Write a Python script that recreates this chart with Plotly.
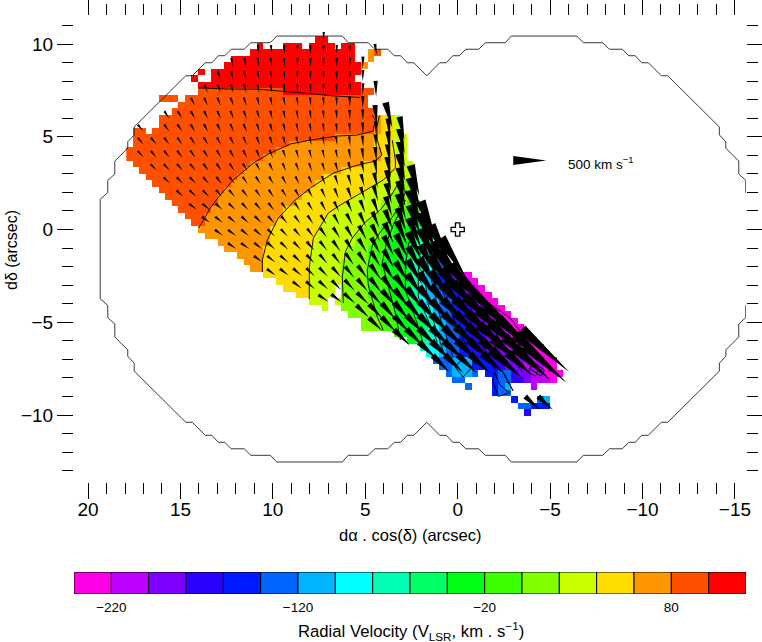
import math
import plotly.graph_objects as go

W, H = 762, 642
FONT = "Liberation Sans"

LEVEL_COLORS = ["#ff00e6", "#c000ff", "#7f00ff", "#2a00ff", "#0019ff", "#0064ff", "#00b4ff", "#00ffff",
                "#00ffb4", "#00ff64", "#00ff14", "#3cff00", "#80ff00", "#c8ff00", "#ffdc00", "#ff9600",
                "#ff5000", "#ff0000"]
LEVEL_EDGES = [-240 + 20 * i for i in range(19)]
CBAR_TICKS = [-220, -120, -20, 80]

# velocity map: for each row, runs of (first column, last column, colour level)
CELL_SIZE = 0.3532
COL0_X = 17.756
ROW0_Y = 10.254
cell_runs = [
 [(29,30,17)],
 [(20,20,17),(24,26,17),(28,31,17),(33,34,17)],
 [(19,34,17),(37,37,15),(38,38,16)],
 [(16,34,17),(37,37,15)],
 [(15,35,17),(36,36,15)],
 [(11,11,17),(13,35,17)],
 [(10,10,17),(13,34,17)],
 [(11,35,17)],
 [(11,23,16),(24,35,17),(36,37,16)],
 [(5,7,16),(9,36,16)],
 [(8,36,16)],
 [(7,37,16)],
 [(5,37,16),(38,38,15),(39,40,14),(41,41,13)],
 [(5,37,16),(38,38,15),(39,40,14),(41,41,13)],
 [(1,2,16),(4,37,16),(38,38,15),(39,40,14),(41,41,13)],
 [(1,31,16),(32,37,15),(38,40,14),(41,42,13)],
 [(1,24,16),(25,37,15),(38,40,14),(41,42,13)],
 [(0,22,16),(23,38,15),(39,40,14),(41,42,13)],
 [(0,20,16),(21,38,15),(39,41,14),(42,42,13)],
 [(1,18,16),(19,35,15),(36,41,14),(42,43,13)],
 [(2,17,16),(18,32,15),(33,40,14),(41,43,13)],
 [(3,16,16),(17,29,15),(30,39,14),(40,43,13)],
 [(4,15,16),(16,28,15),(29,37,14),(38,41,13),(42,43,12)],
 [(5,14,16),(15,27,15),(28,36,14),(37,40,13),(41,43,12)],
 [(6,13,16),(14,26,15),(27,34,14),(35,39,13),(40,43,12)],
 [(7,13,16),(14,25,15),(26,33,14),(34,38,13),(39,42,12),(43,44,11)],
 [(8,12,16),(13,23,15),(24,31,14),(32,38,13),(39,41,12),(42,44,11)],
 [(9,11,16),(12,23,15),(24,30,14),(31,37,13),(38,40,12),(41,43,11),(44,45,10)],
 [(10,11,16),(12,22,15),(23,29,14),(30,36,13),(37,39,12),(40,42,11),(43,45,10)],
 [(11,21,15),(22,29,14),(30,35,13),(36,38,12),(39,40,11),(41,43,10),(44,45,9)],
 [(12,21,15),(22,28,14),(29,34,13),(35,38,12),(39,40,11),(41,43,10),(44,45,9),(46,46,8)],
 [(14,21,15),(22,28,14),(29,34,13),(35,37,12),(38,39,11),(40,43,10),(44,44,9),(45,46,8)],
 [(15,20,15),(21,27,14),(28,33,13),(34,36,12),(37,39,11),(40,42,10),(43,44,9),(45,45,8),(46,46,7),(47,47,6)],
 [(17,20,15),(21,27,14),(28,33,13),(34,36,12),(37,39,11),(40,42,10),(43,44,9),(45,45,8),(46,46,7),(47,47,6)],
 [(18,20,15),(21,27,14),(28,32,13),(33,36,12),(37,38,11),(39,42,10),(43,43,9),(44,45,8),(46,46,7),(47,47,6),(48,48,5)],
 [(19,20,15),(21,27,14),(28,32,13),(33,36,12),(37,38,11),(39,42,10),(43,43,9),(44,45,8),(46,46,7),(47,47,6),(48,49,5)],
 [(21,27,14),(28,32,13),(33,36,12),(37,39,11),(40,42,10),(43,43,9),(44,44,8),(45,45,7),(46,46,6),(47,47,5),(48,48,4),(49,49,3),(50,50,2),(51,52,0)],
 [(23,27,14),(28,32,13),(33,36,12),(37,39,11),(40,42,10),(43,43,9),(44,44,8),(45,45,7),(46,46,6),(47,47,5),(48,48,4),(49,49,3),(50,50,2),(51,51,1),(52,53,0)],
 [(24,27,14),(28,31,13),(33,36,12),(37,39,11),(40,42,10),(43,43,9),(44,44,8),(45,45,7),(46,46,6),(47,48,5),(49,49,4),(50,51,3),(52,52,2),(53,53,1),(54,54,0)],
 [(26,27,14),(28,31,13),(33,36,12),(37,39,11),(40,42,10),(43,43,9),(44,44,8),(45,45,7),(46,47,6),(48,48,5),(49,50,4),(51,51,3),(52,52,2),(53,53,1),(54,55,0)],
 [(28,30,13),(32,32,13),(33,37,12),(38,40,11),(41,42,10),(43,44,9),(45,45,7),(46,47,6),(48,49,5),(50,50,4),(51,52,3),(53,53,2),(54,54,1),(55,56,0)],
 [(30,30,13),(33,37,12),(38,40,11),(41,43,10),(44,44,9),(45,45,8),(46,46,7),(47,47,6),(48,49,5),(50,50,4),(51,52,3),(53,54,2),(55,55,1),(56,57,0)],
 [(34,37,12),(38,40,11),(41,43,10),(44,44,9),(45,45,8),(46,46,7),(47,47,6),(48,49,5),(50,51,4),(52,52,3),(53,54,2),(55,56,1),(57,58,0)],
 [(36,38,12),(39,41,11),(42,44,10),(45,45,9),(46,46,8),(47,47,7),(48,48,6),(49,49,5),(50,51,4),(52,53,3),(54,55,2),(56,56,1),(57,59,0)],
 [(36,38,12),(39,41,11),(42,44,10),(45,45,9),(46,46,8),(47,47,7),(48,48,6),(49,50,5),(51,51,4),(52,53,3),(54,55,2),(56,57,1),(58,60,0)],
 [(41,41,11),(42,44,10),(45,45,9),(46,46,8),(47,47,7),(48,48,6),(49,50,5),(51,52,4),(53,54,3),(55,56,2),(57,58,1),(59,61,0)],
 [(43,44,10),(45,45,9),(46,46,8),(47,47,7),(48,48,6),(49,50,5),(51,52,4),(53,54,3),(55,56,2),(57,58,1),(59,62,0)],
 [(45,45,8),(46,47,7),(48,48,6),(49,50,5),(51,52,4),(53,54,3),(55,57,2),(58,60,1),(61,63,0)],
 [(46,47,7),(48,48,6),(49,50,5),(51,53,4),(54,55,3),(56,58,2),(59,62,1),(63,64,0)],
 [(47,49,5),(50,52,6),(53,55,4),(56,57,3),(58,60,2),(61,63,1),(64,65,0)],
 [(48,49,5),(50,52,6),(53,55,4),(56,57,3),(58,60,2),(61,63,1),(64,65,0)],
 [(49,49,5),(50,52,6),(53,53,5),(55,56,4),(57,58,5),(59,59,3),(60,61,2),(62,63,1),(64,66,0)],
 [(50,51,5),(56,56,4),(57,58,5),(59,60,3),(61,61,2),(62,64,1),(65,65,0)],
 [(52,52,5),(56,56,4),(57,57,5),(58,58,6),(62,62,1)],
 [(56,56,4),(57,58,5)],
 [(59,59,4),(63,63,5),(64,64,6)],
 [(60,61,5),(62,64,4)],
 [(61,61,3)],
]

# isovelocity contours, (dalpha, ddelta) in arcsec
contours = [
 [(14.04,7.63),(12.30,7.57),(10.90,7.57),(9.44,7.46),(8.35,7.36),(6.73,7.20),(5.27,7.12)],
 [(14.02,.08),(13.75,.51),(13.39,1.16),(12.85,1.86),(12.14,2.67),(11.06,3.58),(10.14,4.12),(9.06,4.61),(7.97,4.82),(6.51,5.04),(5.43,5.09),(4.57,5.31),(4.46,5.90),(4.62,6.17)],
 [(10.57,-2.29),(10.57,-1.65),(10.30,-.57),(9.71,.62),(8.79,1.59),(7.97,2.24),(6.73,3.04),(5.43,3.47),(4.46,3.69),(4.10,4.01),(4.35,4.82),(4.38,5.47),(4.24,6.12)],
 [(8.03,-3.75),(8.03,-2.02),(7.81,-.46),(7.0,.89),(6.35,1.32),(5.27,1.97),(4.03,2.67),(3.37,3.31),(3.37,3.75),(3.54,4.82)],
 [(6.19,-3.96),(6.24,-2.56),(6.08,-1.21),(5.70,-.46),(5.0,.40),(4.19,1.05),(3.65,1.75),(3.10,2.67),(3.0,3.48)],
 [(4.03,-5.42),(4.35,-4.72),(4.84,-2.99),(4.89,-2.19),(4.62,-.84),(4.19,-.14),(3.65,.51),(3.10,1.32),(2.78,2.13)],
 [(3.10,-5.96),(3.37,-4.50),(4.08,-1.81),(3.86,-.73),(3.48,.24),(2.83,1.59)],
 [(1.86,-6.23),(2.02,-5.58),(2.83,-3.26),(2.83,-1.92),(2.67,-.84),(2.35,.24)],
 [(1.10,-6.07),(2.13,-3.64),(2.13,-2.19),(2.02,-1.11)],
 [(.67,-6.93),(1.59,-4.07),(1.86,-2.19)],
 [(.24,-6.93),(.94,-4.77),(1.48,-2.46),(1.81,-1.11)],
 [(-.95,-7.31),(.24,-4.77),(1.16,-2.46),(1.59,-1.11)],
 [(-2.04,-7.58),(-.58,-4.77),(.83,-2.46),(1.37,-1.11)],
 [(-3.5,-7.68),(-1.49,-4.77),(.51,-2.46)],
 [(-4.36,-7.68),(-2.31,-4.77),(.29,-2.62)],
 [(-5.01,-7.68),(-2.85,-4.77),(.02,-2.83)],
 [(.14,-7.41),(-.29,-6.93),(-.79,-7.41),(-.29,-7.95),(.14,-7.41)],
 [(-2.0,-7.7),(-2.3,-8.4),(-2.8,-8.8),(-2.2,-9.0),(-1.9,-8.2),(-2.0,-7.7)],
 [(-2.4,-7.6),(-2.7,-8.2),(-3.0,-8.7),(-2.6,-7.9),(-2.4,-7.6)],
 [(-3.8,-7.7),(-4.2,-7.9),(-4.4,-7.5),(-4.0,-7.3),(-3.8,-7.7)],
 [(-3.9,-7.5),(-4.5,-7.9),(-4.7,-7.6),(-4.2,-7.2),(-3.9,-7.5)],
]

# field of view: one quadrant of the outline, offset from the centre of symmetry (arcsec)
FOV_CENTRE = (1.672, -1.051)
fov_dx = [0,.70,1.055,1.41,1.76,2.11,2.81,3.17,4.25,4.57,8.12,8.47,9.52,9.88,10.58,10.93,11.28,11.63,11.99,12.69,13.04,15.83,15.83,16.18,16.18,16.88,16.88,17.26,17.26,17.67]
fov_dy = [9.34,10.04,10.04,10.42,10.42,10.77,10.77,11.12,11.12,11.48,11.48,11.12,11.12,10.77,10.77,10.42,10.42,10.04,10.04,9.34,9.34,6.58,6.15,5.78,5.44,4.74,4.04,3.70,3.04,2.68]

# velocity vectors: grid, then per row (row index, first column, speeds km/s, angles deg clockwise from screen right)
ARROW_X0 = (457.4 - 140.5) / 18.48
ARROW_Y0 = (229.5 - 115.0) / 18.55
ARROW_STEP = 0.7067
ARROW_SCALE = 33 / 18.48 / 500
ARROW_WIDTH = 0.27
ARROW_MAX_WIDTH = 0.56
arrow_rows = [
 (-6,14,[135],[92]),
 (-5,9,[135,135,135,135,135,135,135,135,0,170],[85,85,86,87,88,90,92,93,0,80]),
 (-4,7,[135,135,135,135,135,135,135,135,135,135,180],[78,80,82,83,85,86,88,89,91,93,92]),
 (-3,6,[135,135,135,135,135,135,135,135,135,135,135,170],[72,75,77,79,81,83,85,87,88,90,92,90]),
 (-2,5,[135,135,135,135,135,135,135,135,135,135,135,150,170,240],[68,70,73,75,77,79,81,83,85,87,88,90,92,88]),
 (-1,4,[135,135,135,135,135,135,135,135,135,135,135,135,165,180],[62,65,68,70,72,75,77,79,81,83,85,87,88,90]),
 (0,2,[135,135,135,135,135,135,135,135,135,135,135,135,135,145,150,165,300,390],[57,59,61,64,66,69,71,73,76,78,80,82,84,86,87,88,85,75]),
 (1,0,[135,0,135,135,135,135,135,135,135,135,135,135,135,135,135,135,150,165,200,290,350],[50,0,54,56,59,61,63,66,68,71,73,75,78,80,82,84,85,87,88,85,78]),
 (2,0,[135,135,135,135,135,135,135,135,135,135,135,135,135,135,135,135,150,170,210,300,380],[50,51,53,55,57,59,61,64,66,68,71,73,75,78,80,82,84,85,86,84,78]),
 (3,0,[135,135,135,135,135,135,135,135,135,135,135,135,135,135,135,135,155,180,220,310,400],[47,49,51,53,55,57,59,61,63,66,68,70,73,75,77,79,81,83,84,82,78]),
 (4,1,[135,135,135,135,135,135,135,135,135,135,135,135,135,135,145,165,190,230,320,420],[45,47,49,51,53,55,57,59,61,64,66,68,71,73,75,77,79,81,80,77]),
 (5,2,[135,135,135,135,135,135,135,135,135,135,135,135,145,160,175,200,240,320,400,480],[43,45,47,49,51,53,55,57,59,62,64,66,69,71,73,75,77,78,77,74]),
 (6,3,[140,140,140,140,140,140,140,140,140,140,145,155,165,185,210,250,320,400,500],[42,44,46,48,50,52,54,56,58,61,63,65,68,70,72,74,75,75,72]),
 (7,4,[145,145,145,145,145,145,145,145,145,150,160,170,190,215,250,320,400,520],[38,40,42,44,47,49,52,54,56,59,62,64,66,69,70,72,73,70]),
 (8,5,[150,150,150,150,150,150,150,150,160,170,185,205,230,265,320,380,470,600],[36,38,40,43,45,48,50,53,56,58,61,63,65,67,69,70,70,68]),
 (9,6,[155,155,155,155,155,155,155,165,180,195,215,245,280,330,390,480,650],[35,37,39,42,44,47,50,52,55,57,60,62,64,66,67,68,66]),
 (10,7,[155,155,155,155,160,165,175,185,200,220,250,285,335,395,470,560,700],[34,36,39,41,44,46,49,52,54,57,59,61,63,64,65,66,63]),
 (11,9,[160,160,165,170,175,185,195,215,240,270,310,360,420,490,580,750],[36,38,41,44,46,49,52,54,56,58,60,61,62,62,60,58]),
 (12,10,[165,170,175,180,190,205,225,250,280,320,370,430,500,600,800],[36,38,41,44,47,49,51,53,55,57,58,59,58,56,54]),
 (13,12,[175,180,190,205,225,250,280,320,360,410,470,540,620,800],[37,40,43,46,48,50,52,54,55,56,55,53,50,48]),
 (14,14,[190,205,225,250,280,320,360,400,440,490,550,640,820],[35,38,42,45,47,49,51,52,52,51,49,47,45]),
 (15,17,[270,300,330,360,390,420,450,490,540,640,840],[45,47,49,50,50,49,48,46,45,44,43]),
 (16,18,[290,320,350,380,400,430,460,500,560,660,860],[44,46,47,47,47,46,45,44,43,43,42]),
 (17,20,[340,370,400,420,450,480,520,580,680,880],[44,45,45,44,44,43,43,42,42,42]),
 (18,22,[380,410,430,450,480,510,560,620,720,970],[44,44,43,43,43,42,42,42,42,42]),
 (19,23,[360,390,400,420,440,620,500,720,850],[45,44,44,43,43,42,42,42,42]),
 (22,30,[300,300],[42,42]),
]
KEY_X, KEY_Y, KEY_SPEED, KEY_ANGLE = -3.90, 3.72, 500, 0

# ---------- build the velocity grid ----------
n_cols = 1 + max(r[1] for row in cell_runs for r in row)
z = [[None] * n_cols for _ in cell_runs]
for j, row in enumerate(cell_runs):
    for first, last, level in row:
        for c in range(first, last + 1):
            z[j][c] = LEVEL_EDGES[level] + 10
xs = [COL0_X - CELL_SIZE * c for c in range(n_cols)]
ys = [ROW0_Y - CELL_SIZE * j for j in range(len(cell_runs))]

cscale = []
for i, col in enumerate(LEVEL_COLORS):
    cscale += [[i / 18, col], [(i + 1) / 18, col]]

def triangle(xm, ym, speed, angle):
    s = speed * ARROW_SCALE
    a = math.radians(angle)
    dx, dy = -math.cos(a), -math.sin(a)      # data directions: x axis runs right-to-left
    px, py = -dy, dx
    hw = min(ARROW_WIDTH * s, ARROW_MAX_WIDTH) / 2
    xb, yb = xm - dx * s / 2, ym - dy * s / 2
    return ([xb + px * hw, xb - px * hw, xm + dx * s / 2, xb + px * hw, None],
            [yb + py * hw, yb - py * hw, ym + dy * s / 2, yb + py * hw, None])

ax_, ay_ = [], []
for m, k0, speeds, angles in arrow_rows:
    for i, (sp, an) in enumerate(zip(speeds, angles)):
        if sp:
            tx, ty = triangle(ARROW_X0 - ARROW_STEP * (k0 + i), ARROW_Y0 - 0.7062 * m, sp, an)
            ax_ += tx
            ay_ += ty
tx, ty = triangle(KEY_X, KEY_Y, KEY_SPEED, KEY_ANGLE)
ax_ += tx
ay_ += ty

cx_, cy_ = [], []
for line in contours:
    cx_ += [p[0] for p in line] + [None]
    cy_ += [p[1] for p in line] + [None]

cx0, cy0 = FOV_CENTRE
ox = ([cx0 - d for d in fov_dx] + [cx0 - d for d in reversed(fov_dx)]
      + [cx0 + d for d in fov_dx] + [cx0 + d for d in reversed(fov_dx)])
oy = ([cy0 + d for d in fov_dy] + [cy0 - d for d in reversed(fov_dy)]
      + [cy0 - d for d in fov_dy] + [cy0 + d for d in reversed(fov_dy)])

fig = go.Figure()
fig.add_trace(go.Heatmap(x=xs, y=ys, z=z, zmin=-240, zmax=120, colorscale=cscale, showscale=False,
                         hoverongaps=False, xaxis="x", yaxis="y"))
fig.add_trace(go.Scatter(x=cx_, y=cy_, mode="lines", line=dict(color="black", width=0.9),
                         showlegend=False, hoverinfo="skip", xaxis="x", yaxis="y"))
fig.add_trace(go.Scatter(x=ax_, y=ay_, mode="lines", fill="toself", fillcolor="black", line=dict(width=0),
                         showlegend=False, hoverinfo="skip", xaxis="x", yaxis="y"))
fig.add_trace(go.Scatter(x=ox, y=oy, mode="lines", line=dict(color="#222222", width=0.9),
                         showlegend=False, hoverinfo="skip", xaxis="x", yaxis="y"))
fig.add_trace(go.Scatter(x=[0], y=[0], mode="markers", showlegend=False, hoverinfo="skip",
                         marker=dict(symbol="cross", size=11, color="white", line=dict(color="black", width=1.3)),
                         xaxis="x", yaxis="y"))
for i, col in enumerate(LEVEL_COLORS):
    fig.add_trace(go.Bar(y=[0], x=[LEVEL_EDGES[i + 1] - LEVEL_EDGES[i]], base=[LEVEL_EDGES[i]], orientation="h",
                         width=1, marker=dict(color=col, line=dict(color="black", width=1)),
                         showlegend=False, hoverinfo="skip", xaxis="x2", yaxis="y2"))

X0, X1, Y0, Y1 = 74 / W, 746 / W, 1 - 482 / H, 1 - 16 / H
tick = dict(ticks="outside", ticklen=16, tickcolor="black", tickwidth=1, showgrid=False, zeroline=False,
            mirror="ticks", automargin=False, tickfont=dict(family=FONT, size=19, color="black"), dtick=5, tick0=0,
            minor=dict(dtick=1, ticks="outside", ticklen=11, tickcolor="black", tickwidth=1, showgrid=False))

def note(px, py, text, size, **kw):
    return dict(x=px / W, y=1 - py / H, xref="paper", yref="paper", text=text, showarrow=False,
                xanchor="center", yanchor="middle",
                font=dict(family=FONT, size=size, color="black"), **kw)

fig.update_layout(
    width=W, height=H, margin=dict(l=0, r=0, t=0, b=0), paper_bgcolor="white", plot_bgcolor="white",
    barmode="overlay", showlegend=False,
    xaxis=dict(domain=[X0, X1], range=[20.76, -15.6], anchor="y", ticklabelstandoff=-6, **tick),
    yaxis=dict(domain=[Y0, Y1], range=[-13.61, 11.51], anchor="x", **tick),
    xaxis2=dict(domain=[X0, X1], range=[-240, 120], anchor="y2", tickvals=CBAR_TICKS, ticks="", showgrid=False,
                zeroline=False, automargin=False, ticklabelstandoff=3,
                tickfont=dict(family=FONT, size=13.5, color="black")),
    yaxis2=dict(domain=[1 - 594 / H, 1 - 572 / H], range=[-0.5, 0.5], anchor="x2", showticklabels=False,
                ticks="", showgrid=False, zeroline=False, automargin=False),
    annotations=[
        note(410, 535, "d\u03b1 . cos(\u03b4) (arcsec)", 16.5),
        note(12, 250, "d\u03b4 (arcsec)", 16, textangle=-90),
        note(411, 631, "Radial Velocity (V<sub>LSR</sub>, km . s<sup>\u22121</sup>)", 16.7),
        note(601, 163, "500 km s<sup>\u22121</sup>", 13.5),
    ],
)
fig.write_html("out.html", config=dict(displayModeBar=False), post_script="document.body.style.margin='0';")
